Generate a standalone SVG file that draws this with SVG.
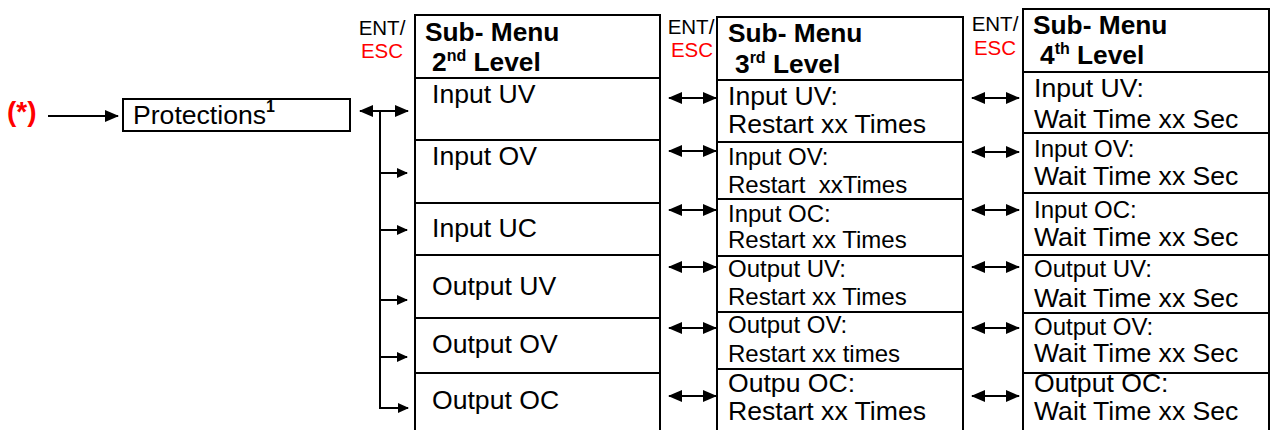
<svg xmlns="http://www.w3.org/2000/svg" width="1270" height="430" viewBox="0 0 1270 430">
<style>
text{font-family:"Liberation Sans",Arial,sans-serif;fill:#000}
.box{fill:#fff;stroke:#000;stroke-width:2}
.div{stroke:#000;stroke-width:2}
.lg{font-size:26.6px}
.sm{font-size:24px}
.hd{font-size:26.3px;font-weight:bold}
.sup{font-size:16px;font-weight:bold}
.ent{font-size:20.5px;text-anchor:middle}
.red{fill:#ff0000}
.con{stroke:#000;stroke-width:2;fill:none}
</style>
<defs>
<marker id="ah" markerUnits="userSpaceOnUse" markerWidth="14" markerHeight="12" refX="13" refY="6" orient="auto-start-reverse"><path d="M0,0 L14,6 L0,12 z" fill="#000"/></marker>
<marker id="as" markerUnits="userSpaceOnUse" markerWidth="11" markerHeight="10" refX="10" refY="5" orient="auto"><path d="M0,0 L11,5 L0,10 z" fill="#000"/></marker>
</defs>

<g id="start">
<text x="7" y="121" font-size="28" font-weight="bold" class="red">(*)</text>
</g>

<g id="protections">
<rect class="box" x="123" y="99" width="227" height="32"/>
<text x="133" y="124" class="lg">Protections<tspan class="sup" font-size="14" dy="-12">1</tspan></text>
</g>

<g id="ent1"><text class="ent" x="382" y="35">ENT/</text><text class="ent red" x="382" y="58">ESC</text></g>
<g id="ent2"><text class="ent" x="691" y="34">ENT/</text><text class="ent red" x="692" y="57">ESC</text></g>
<g id="ent3"><text class="ent" x="995" y="31">ENT/</text><text class="ent red" x="995" y="55">ESC</text></g>

<g id="level2">
<rect class="box" x="415" y="15" width="245" height="430"/>
<line class="div" x1="415" y1="78" x2="660" y2="78"/>
<line class="div" x1="415" y1="140" x2="660" y2="140"/>
<line class="div" x1="415" y1="203" x2="660" y2="203"/>
<line class="div" x1="415" y1="255" x2="660" y2="255"/>
<line class="div" x1="415" y1="318" x2="660" y2="318"/>
<line class="div" x1="415" y1="373" x2="660" y2="373"/>
<text class="hd" x="425" y="41">Sub- Menu</text>
<text class="hd" x="432" y="71">2<tspan class="sup" dy="-10">nd</tspan><tspan dy="10"> Level</tspan></text>
<text class="lg" x="432" y="103">Input UV</text>
<text class="lg" x="432" y="165">Input OV</text>
<text class="lg" x="432" y="237">Input UC</text>
<text class="lg" x="432" y="295">Output UV</text>
<text class="lg" x="432" y="353">Output OV</text>
<text class="lg" x="432" y="409">Output OC</text>
</g>

<g id="level3">
<rect class="box" x="717" y="17" width="246" height="430"/>
<line class="div" x1="717" y1="80" x2="963" y2="80"/>
<line class="div" x1="717" y1="142" x2="963" y2="142"/>
<line class="div" x1="717" y1="199" x2="963" y2="199"/>
<line class="div" x1="717" y1="256" x2="963" y2="256"/>
<line class="div" x1="717" y1="312" x2="963" y2="312"/>
<line class="div" x1="717" y1="369" x2="963" y2="369"/>
<text class="hd" x="728" y="42">Sub- Menu</text>
<text class="hd" x="735" y="73">3<tspan class="sup" dy="-10">rd</tspan><tspan dy="10"> Level</tspan></text>
<text class="lg" x="728" y="105">Input UV:</text>
<text class="lg" x="728" y="133">Restart xx Times</text>
<text class="sm" x="728" y="165">Input OV:</text>
<text class="sm" x="728" y="193" xml:space="preserve">Restart  xxTimes</text>
<text class="sm" x="728" y="222">Input OC:</text>
<text class="sm" x="728" y="248">Restart xx Times</text>
<text class="sm" x="728" y="277">Output UV:</text>
<text class="sm" x="728" y="305">Restart xx Times</text>
<text class="sm" x="728" y="333">Output OV:</text>
<text class="sm" x="728" y="362">Restart xx times</text>
<text class="lg" x="728" y="392">Outpu OC:</text>
<text class="lg" x="728" y="420">Restart xx Times</text>
</g>

<g id="level4">
<rect class="box" x="1023" y="9" width="246" height="440"/>
<line class="div" x1="1023" y1="72" x2="1269" y2="72"/>
<line class="div" x1="1023" y1="133" x2="1269" y2="133"/>
<line class="div" x1="1023" y1="193" x2="1269" y2="193"/>
<line class="div" x1="1023" y1="255" x2="1269" y2="255"/>
<line class="div" x1="1023" y1="313" x2="1269" y2="313"/>
<line class="div" x1="1023" y1="373" x2="1269" y2="373"/>
<text class="hd" x="1033" y="34">Sub- Menu</text>
<text class="hd" x="1040" y="64">4<tspan class="sup" dy="-10">th</tspan><tspan dy="10"> Level</tspan></text>
<text class="lg" x="1034" y="97">Input UV:</text>
<text class="lg" x="1034" y="128">Wait Time xx Sec</text>
<text class="sm" x="1034" y="157">Input OV:</text>
<text class="lg" x="1034" y="185">Wait Time xx Sec</text>
<text class="sm" x="1034" y="218">Input OC:</text>
<text class="lg" x="1034" y="246">Wait Time xx Sec</text>
<text class="sm" x="1034" y="277">Output UV:</text>
<text class="lg" x="1034" y="307">Wait Time xx Sec</text>
<text class="sm" x="1034" y="335">Output OV:</text>
<text class="lg" x="1034" y="362">Wait Time xx Sec</text>
<text class="lg" x="1034" y="392">Output OC:</text>
<text class="lg" x="1034" y="420">Wait Time xx Sec</text>
</g>

<g id="connectors">
<line class="con" x1="48" y1="116" x2="118" y2="116" marker-end="url(#ah)"/>
<line class="con" x1="360" y1="111" x2="408" y2="111" marker-start="url(#ah)" marker-end="url(#ah)"/>
<polyline class="con" points="380,111 380,408 408,408" marker-end="url(#as)"/>
<line class="con" x1="381" y1="173" x2="407" y2="173" marker-end="url(#as)"/>
<line class="con" x1="381" y1="230" x2="407" y2="230" marker-end="url(#as)"/>
<line class="con" x1="381" y1="300" x2="407" y2="300" marker-end="url(#as)"/>
<line class="con" x1="381" y1="357" x2="407" y2="357" marker-end="url(#as)"/>
<line class="con" x1="669" y1="98" x2="716" y2="98" marker-start="url(#ah)" marker-end="url(#ah)"/>
<line class="con" x1="669" y1="151" x2="716" y2="151" marker-start="url(#ah)" marker-end="url(#ah)"/>
<line class="con" x1="669" y1="210" x2="716" y2="210" marker-start="url(#ah)" marker-end="url(#ah)"/>
<line class="con" x1="669" y1="267" x2="716" y2="267" marker-start="url(#ah)" marker-end="url(#ah)"/>
<line class="con" x1="669" y1="328" x2="716" y2="328" marker-start="url(#ah)" marker-end="url(#ah)"/>
<line class="con" x1="669" y1="396" x2="716" y2="396" marker-start="url(#ah)" marker-end="url(#ah)"/>
<line class="con" x1="972" y1="98" x2="1019" y2="98" marker-start="url(#ah)" marker-end="url(#ah)"/>
<line class="con" x1="972" y1="152" x2="1019" y2="152" marker-start="url(#ah)" marker-end="url(#ah)"/>
<line class="con" x1="972" y1="210" x2="1019" y2="210" marker-start="url(#ah)" marker-end="url(#ah)"/>
<line class="con" x1="972" y1="267" x2="1019" y2="267" marker-start="url(#ah)" marker-end="url(#ah)"/>
<line class="con" x1="972" y1="328" x2="1019" y2="328" marker-start="url(#ah)" marker-end="url(#ah)"/>
<line class="con" x1="972" y1="396" x2="1019" y2="396" marker-start="url(#ah)" marker-end="url(#ah)"/>
</g>
</svg>
